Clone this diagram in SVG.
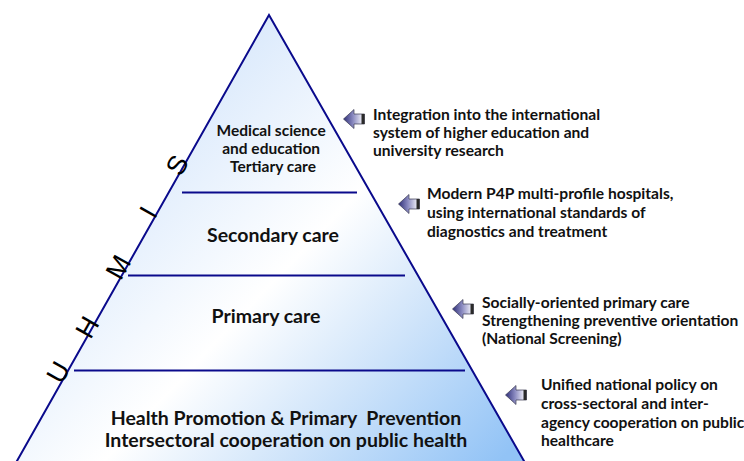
<svg xmlns="http://www.w3.org/2000/svg" width="744" height="461" viewBox="0 0 744 461">
  <style>
    .tier { font-family: Lato, "Liberation Sans", Arial, sans-serif; font-weight: bold; fill: #111; text-anchor: middle; }
    .note { font-family: Lato, "Liberation Sans", Arial, sans-serif; font-weight: bold; font-size: 15.6px; fill: #111; }
    .band { stroke: #0a0a8c; stroke-width: 2; fill: none; }
    .axis { font-family: "Liberation Sans", Arial, sans-serif; font-size: 27px; fill: #000; text-anchor: middle; }
  </style>
  <defs>
    <linearGradient id="pyrFill" gradientUnits="userSpaceOnUse" x1="140" y1="80" x2="520" y2="440">
      <stop offset="0" stop-color="#d3e5fb"/>
      <stop offset="0.33" stop-color="#f3f8fe"/>
      <stop offset="0.45" stop-color="#ffffff"/>
      <stop offset="0.7" stop-color="#cfe4fa"/>
      <stop offset="1" stop-color="#92c3f6"/>
    </linearGradient>
    <linearGradient id="arrowFill" x1="0" y1="0" x2="1" y2="0">
      <stop offset="0" stop-color="#2e2e78"/>
      <stop offset="0.45" stop-color="#8a8ac0"/>
      <stop offset="0.85" stop-color="#e4e4f2"/>
      <stop offset="1" stop-color="#c8c8dc"/>
    </linearGradient>
    <symbol id="leftArrow" viewBox="0 0 22 20" width="22" height="20">
      <path d="M0.5,10 L11,0.5 L11,5 L21.5,5 L21.5,15 L11,15 L11,19.5 Z" fill="url(#arrowFill)" stroke="#3a3a50" stroke-width="0.7"/>
      <rect x="18.5" y="5" width="3" height="10" fill="#2a2a2a"/>
    </symbol>
  </defs>

  <!-- pyramid body -->
  <g id="pyramid">
    <path d="M269,15 L13,468 L528,468 Z" fill="url(#pyrFill)" stroke="#0a0a8c" stroke-width="2" stroke-linejoin="miter"/>
  </g>

  <!-- tier dividers -->
  <g id="connectors">
    <line class="band" x1="182" y1="192.5" x2="357" y2="192.5"/>
    <line class="band" x1="128" y1="275.5" x2="405" y2="275.5"/>
    <line class="band" x1="74" y1="370.5" x2="465" y2="370.5"/>
  </g>

  <!-- tiers -->
  <g id="tier-tertiary">
    <text class="tier" font-size="15.5">
      <tspan x="273" y="136">Medical science</tspan>
      <tspan x="273" y="154">and education</tspan>
      <tspan x="273" y="172">Tertiary care</tspan>
    </text>
  </g>
  <g id="tier-secondary">
    <text class="tier" font-size="19.5" x="273" y="242">Secondary care</text>
  </g>
  <g id="tier-primary">
    <text class="tier" font-size="19.5" x="266" y="323">Primary care</text>
  </g>
  <g id="tier-base">
    <text class="tier" font-size="19.5" x="286" y="424.5" xml:space="preserve">Health Promotion &amp; Primary  Prevention</text>
    <text class="tier" font-size="19.5" x="286" y="447">Intersectoral cooperation on public health</text>
  </g>

  <!-- UHMIS lettering along the left edge -->
  <g id="uhmis">
    <text class="axis" transform="translate(58,372) rotate(-60.5)" dy="0.35em">U</text>
    <text class="axis" transform="translate(87,327) rotate(-60.5)" dy="0.35em">H</text>
    <text class="axis" transform="translate(118,267) rotate(-60.5)" dy="0.35em">M</text>
    <text class="axis" transform="translate(148,212) rotate(-60.5)" dy="0.35em">I</text>
    <text class="axis" transform="translate(177,165) rotate(-60.5)" dy="0.35em">S</text>
  </g>

  <!-- side notes -->
  <g id="note-tertiary">
    <use href="#leftArrow" x="343" y="109"/>
    <text class="note">
      <tspan x="373" y="120">Integration into the international</tspan>
      <tspan x="373" y="138">system of higher education and</tspan>
      <tspan x="373" y="156">university research</tspan>
    </text>
  </g>
  <g id="note-secondary">
    <use href="#leftArrow" x="398" y="194"/>
    <text class="note">
      <tspan x="427" y="199">Modern P4P multi-profile hospitals,</tspan>
      <tspan x="427" y="218">using international standards of</tspan>
      <tspan x="427" y="237">diagnostics and treatment</tspan>
    </text>
  </g>
  <g id="note-primary">
    <use href="#leftArrow" x="452" y="299"/>
    <text class="note">
      <tspan x="482" y="308">Socially-oriented primary care</tspan>
      <tspan x="482" y="326">Strengthening preventive orientation</tspan>
      <tspan x="482" y="344">(National Screening)</tspan>
    </text>
  </g>
  <g id="note-base">
    <use href="#leftArrow" x="505" y="385"/>
    <text class="note">
      <tspan x="541" y="390">Unified national policy on</tspan>
      <tspan x="541" y="409">cross-sectoral and inter-</tspan>
      <tspan x="541" y="428">agency cooperation on public</tspan>
      <tspan x="541" y="446">healthcare</tspan>
    </text>
  </g>
</svg>
